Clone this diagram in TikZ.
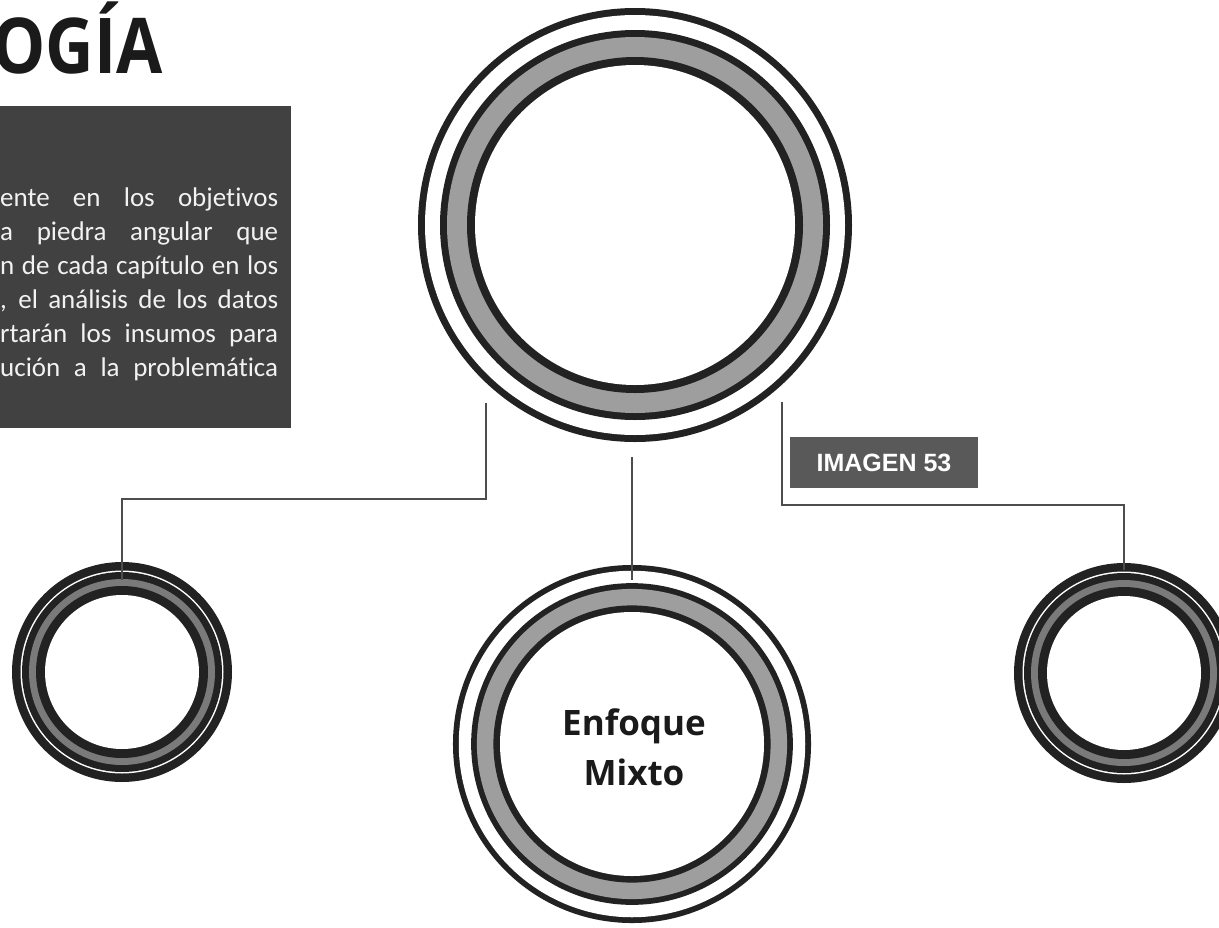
\documentclass[tikz,border=0pt]{standalone}
\usepackage{fontspec}
\usepackage{graphicx}
\setmainfont{Carlito}[Ligatures=NoCommon]
\newfontfamily\titlefont{Open Sans}
\newfontfamily\labelfont{Liberation Sans}
\usetikzlibrary{calc}

\definecolor{ringblack}{HTML}{222222}
\definecolor{ringgrey}{HTML}{9E9E9E}
\definecolor{ringgreysmall}{HTML}{7A7A7A}
\definecolor{panel}{HTML}{414141}
\definecolor{tagfill}{HTML}{595959}
\definecolor{wire}{HTML}{4D4D4D}
\definecolor{ink}{HTML}{1A1A1A}
\definecolor{paneltext}{HTML}{F2F2F2}

% large ring: outer line, white gap, black/grey/black band (scaled)
\newcommand\bandring[2]{%
  \fill[ringblack] (#1) circle[radius=217pt*#2];
  \fill[white]     (#1) circle[radius=210pt*#2];
  \fill[ringblack] (#1) circle[radius=195pt*#2];
  \fill[ringgrey]  (#1) circle[radius=188pt*#2];
  \fill[ringblack] (#1) circle[radius=168pt*#2];
  \fill[white]     (#1) circle[radius=160pt*#2];
}
% small ring: same strokes at full weight on a smaller radius
\newcommand\smallring[1]{%
  \fill[ringblack]     (#1) circle[radius=110pt];
  \fill[white]         (#1) circle[radius=101.5pt];
  \fill[ringblack]     (#1) circle[radius=100pt];
  \fill[ringgreysmall] (#1) circle[radius=93pt];
  \fill[ringblack]     (#1) circle[radius=86pt];
  \fill[white]         (#1) circle[radius=77pt];
}

\tikzset{
  ringnode/.style={circle, inner sep=0pt, minimum size=#1},
  wireline/.style={draw=wire, line width=2.3pt},
  bodytext/.style={anchor=base west, inner sep=0pt, text=paneltext,
    font=\fontsize{27}{34}\selectfont},
}

\begin{document}
\begin{tikzpicture}[x=1pt, y=-1pt]
\useasboundingbox (0,0) rectangle (1219,927);
\clip (0,0) rectangle (1219,927);
\fill[white] (0,0) rectangle (1219,927);

% heading
\node[anchor=base west, inner sep=0pt, text=ink,
      font=\titlefont\bfseries\fontsize{77}{80}\selectfont]
  (title) at (-8,73) {\scalebox{0.87}[1]{OGÍA}};

% dark text panel
\node[fill=panel, anchor=north west, minimum width=296pt,
      minimum height=322pt, inner sep=0pt] (panel) at (-5,106) {};
\foreach \line [count=\i] in {%
    ente en los objetivos,
    a piedra angular que,
    n de cada capítulo en los,
    {, el análisis de los datos},
    rtarán los insumos para,
    ución a la problemática}{
  \node[bodytext] (body\i) at (0,{206+34*(\i-1)})
    {\makebox[278pt][s]{\line}};
}

% circles
\node[ringnode=434pt] (top)   at (635,225) {};
\node[ringnode=358pt] (mixto) at (632,744) {};
\node[ringnode=220pt] (left)  at (122,672) {};
\node[ringnode=222pt] (right) at (1124,673) {};
\bandring{top}{1}
\bandring{mixto}{0.825}
\smallring{left}
\smallring{right}

\node[anchor=base, inner sep=0pt, text=ink,
      font=\titlefont\bfseries\fontsize{35}{40}\selectfont]
  (mixto1) at (634,735) {Enfoque};
\node[anchor=base, inner sep=0pt, text=ink,
      font=\titlefont\bfseries\fontsize{35}{40}\selectfont]
  (mixto2) at (634,785) {Mixto};

% connectors
\coordinate (lstart) at (486,403);
\coordinate (mstart) at (632,457);
\coordinate (rstart) at (782,402);
\draw[wireline] (lstart) -- ++(0,96) -| ($(left.north)+(0,18)$);
\draw[wireline] (mstart) -- ($(mixto.north)+(0,15)$);
\draw[wireline] (rstart) -- ++(0,103) -| ($(right.north)+(0,8)$);

% caption tag
\node[fill=tagfill, text=white, minimum width=188pt, minimum height=51pt,
      inner sep=0pt, font=\labelfont\bfseries\fontsize{25}{30}\selectfont]
  (tag) at (884,462.5) {IMAGEN 53};
\end{tikzpicture}
\end{document}
